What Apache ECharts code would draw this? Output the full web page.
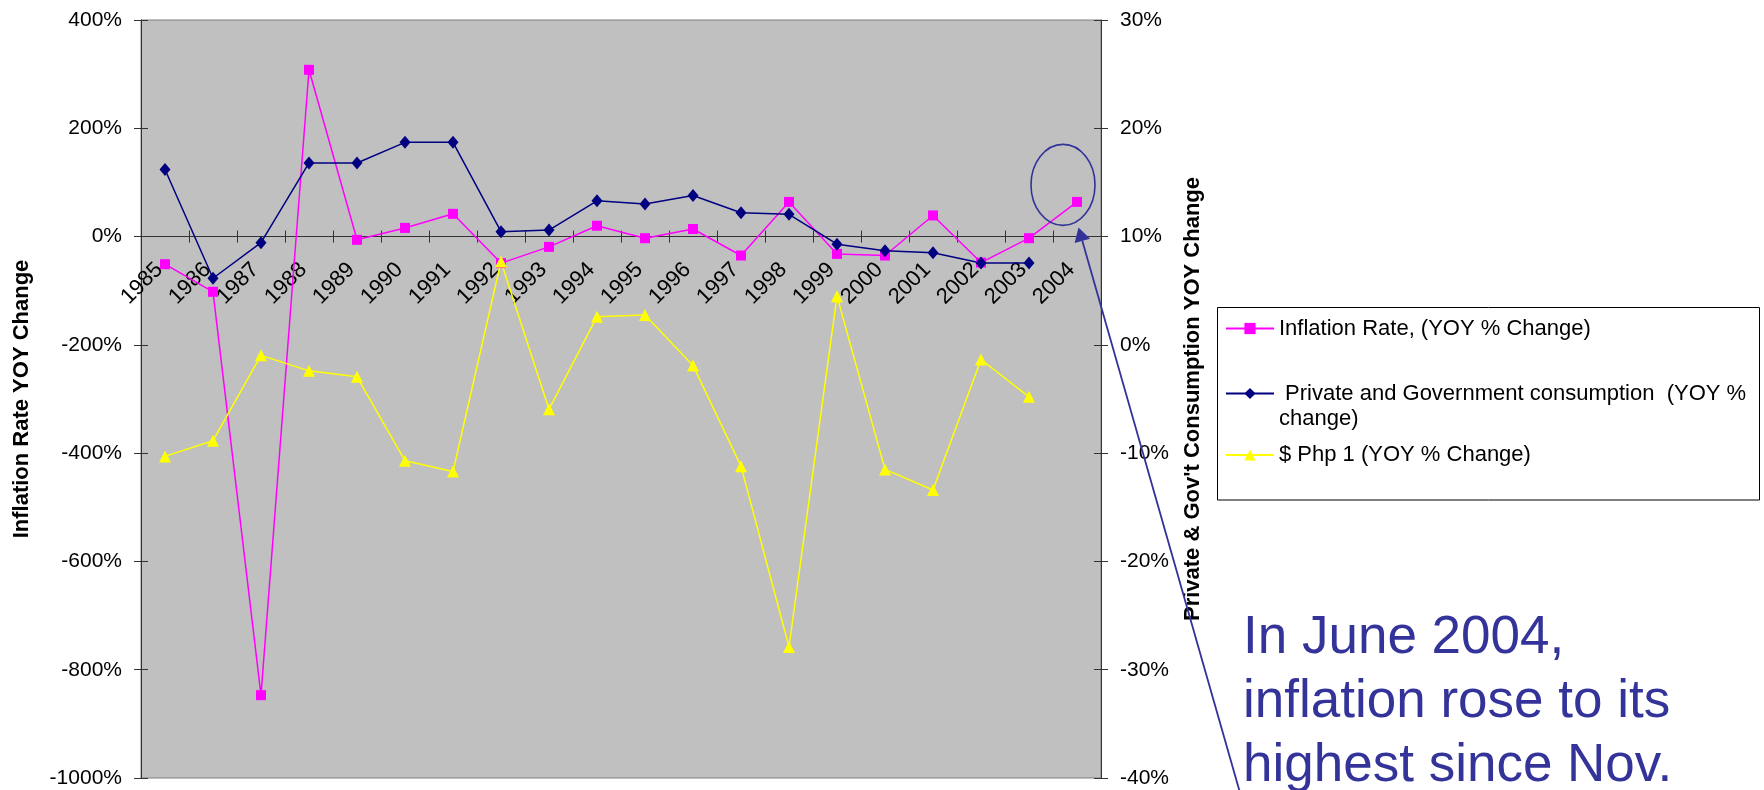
<!DOCTYPE html>
<html><head><meta charset="utf-8">
<script src="https://cdn.jsdelivr.net/npm/echarts@6/dist/echarts.min.js"></script>
<style>html,body{margin:0;padding:0;background:#fff}#c{width:1764px;height:790px}</style>
</head><body><div id="c"></div>
<script>
const years = ['1985','1986','1987','1988','1989','1990','1991','1992','1993','1994','1995','1996','1997','1998','1999','2000','2001','2002','2003','2004'];
const inflation = [-51,-102,-847,308,-6,16,42,-49,-19,20,-3,14,-35,64,-32,-35,39,-48,-3,64];
const consumption = [16.2,6.15,9.44,16.8,16.8,18.7,18.7,10.45,10.6,13.3,13.0,13.8,12.2,12.05,9.3,8.7,8.5,7.55,7.55,null];
const php = [-10.3,-8.85,-0.97,-2.4,-2.95,-10.7,-11.7,7.7,-5.95,2.6,2.75,-1.9,-11.2,-27.9,4.5,-11.5,-13.4,-1.35,-4.8,null];
const leftAxis = {min:-1000, max:400, step:200};
const rightAxis = {min:-40, max:30, step:10};
const seriesNames = ['Inflation Rate, (YOY % Change)', ' Private and Government consumption  (YOY % change)', '$ Php 1 (YOY % Change)'];
const leftTitle = 'Inflation Rate YOY Change';
const rightTitle = "Private & Gov't Consumption YOY Change";
const noteText = 'In June 2004,\ninflation rose to its\nhighest since Nov.';

const FF = '"Liberation Sans", Arial, Helvetica, sans-serif';
const chart = echarts.init(document.getElementById('c'));
const axisColor = '#333';
const tickStyle = {color: axisColor, width: 1};
const G = {left:141, top:20, width:960, height:758};
function yAx(r, pos, main) {
  return {
    type:'value', position:pos, min:r.min, max:r.max, interval:r.step,
    axisLine:{show:main, onZero:false, lineStyle:{color:axisColor, width:1}},
    axisTick:{show:true, inside:!main, length:7, lineStyle:tickStyle},
    axisLabel:{show:main, formatter:v => v + '%', fontFamily:FF, fontSize:21, color:'#000', margin:19},
    splitLine:{show:false}
  };
}
function xAx(main, offset) {
  return {type:'category', data:years, position:'bottom', boundaryGap:true, offset:offset,
    axisLine:{show:main, onZero:false, lineStyle:{color:axisColor, width:1.2}},
    axisTick:{show:true, inside:!main, interval:0, alignWithLabel:false, length:6, lineStyle:tickStyle},
    axisLabel:{show:main, interval:0, rotate:45, margin:24, fontFamily:FF, fontSize:22, color:'#000', padding:[0,8,0,0]},
    splitLine:{show:false}};
}
// pixel offset that puts the category axis on the 0% line of the left axis
const zeroOffset = -(G.height * (0 - leftAxis.min) / (leftAxis.max - leftAxis.min));
const legendBase = {
  orient:'vertical', left:1225, padding:0, itemWidth:48, itemHeight:14,
  selectedMode:false,
  textStyle:{fontFamily:FF, fontSize:22, lineHeight:25, color:'#000'}
};
const option = {
  animation:false,
  backgroundColor:'#fff',
  grid:Object.assign({show:true, backgroundColor:'#C0C0C0', borderColor:'#808080', borderWidth:1, containLabel:false, outerBoundsMode:'none'}, G),
  xAxis:[xAx(true, zeroOffset), xAx(false, zeroOffset)],
  yAxis:[yAx(leftAxis, 'left', true), yAx(rightAxis, 'right', true), yAx(leftAxis, 'left', false), yAx(rightAxis, 'right', false)],
  legend:[
    Object.assign({}, legendBase, {data:[seriesNames[0]], top:316}),
    Object.assign({}, legendBase, {data:[seriesNames[1]], top:356,
      formatter: n => '\n' + n.replace('% change', '%\nchange')}),
    Object.assign({}, legendBase, {data:[seriesNames[2]], top:442.5})
  ],
  series:[
    {name:seriesNames[0], type:'line', xAxisIndex:0, yAxisIndex:0, data:inflation, symbol:'rect', symbolSize:10, showAllSymbol:true,
     itemStyle:{color:'#FF00FF'}, lineStyle:{color:'#FF00FF', width:1.5}},
    {name:seriesNames[1], type:'line', xAxisIndex:0, yAxisIndex:1, data:consumption, symbol:'diamond', symbolSize:[11,13], showAllSymbol:true,
     itemStyle:{color:'#000080'}, lineStyle:{color:'#000080', width:1.5}},
    {name:seriesNames[2], type:'line', xAxisIndex:0, yAxisIndex:1, data:php, symbol:'triangle', symbolSize:12, showAllSymbol:true,
     itemStyle:{color:'#FFFF00'}, lineStyle:{color:'#FFFF00', width:1.5}}
  ]
};
chart.setOption(option);

// annotation anchored at last inflation point
const last = inflation.length - 1;
const p = chart.convertToPixel({xAxisIndex:0, yAxisIndex:0}, [last, inflation[last]]);
const tip = [p[0] + 1.5, p[1] + 25.5];
const d = [0.2747, 0.9615], nrm = [-0.9615, 0.2747];
const hl = 14, hw = 8;
const bx = tip[0] + d[0]*hl, by = tip[1] + d[1]*hl;
const tailY = 800;
const tailX = tip[0] + d[0]/d[1]*(tailY - tip[1]);
const noteColor = '#333399';
const midY = G.top + G.height/2;
const titleStyle = {fontFamily:FF, fontSize:22, fontWeight:'bold', fill:'#000', align:'center', verticalAlign:'middle'};
chart.setOption({
  graphic:[
    {type:'rect', z:0, shape:{x:1217.5, y:307.5, width:542, height:192.5}, style:{fill:'#fff', stroke:'#000', lineWidth:1}},
    {type:'text', z:100, x:22, y:midY, rotation:Math.PI/2, style:Object.assign({text:leftTitle}, titleStyle)},
    {type:'text', z:100, x:1193, y:midY, rotation:Math.PI/2, style:Object.assign({text:rightTitle}, titleStyle)},
    {type:'ellipse', z:100, shape:{cx:p[0]-14, cy:p[1]-17, rx:32, ry:40.5}, style:{fill:'none', stroke:noteColor, lineWidth:1.6}},
    {type:'line', z:100, shape:{x1:bx, y1:by, x2:tailX, y2:tailY}, style:{stroke:noteColor, lineWidth:1.8}},
    {type:'polygon', z:100, shape:{points:[tip, [bx+nrm[0]*hw, by+nrm[1]*hw], [bx-nrm[0]*hw, by-nrm[1]*hw]]}, style:{fill:noteColor}},
    {type:'text', z:100, x:1243, y:606, style:{text:noteText, fontFamily:FF, fontSize:53, lineHeight:64, fill:noteColor, verticalAlign:'top', align:'left'}}
  ]
});
</script></body></html>
